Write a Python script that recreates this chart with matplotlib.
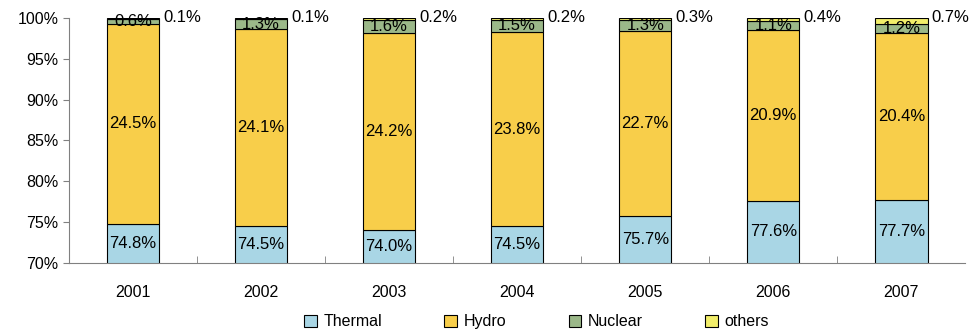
import matplotlib.pyplot as plt
import numpy as np

plt.rcParams['font.family'] = ['Liberation Sans', 'DejaVu Sans']

years = ['2001', '2002', '2003', '2004', '2005', '2006', '2007']
thermal = [74.8, 74.5, 74.0, 74.5, 75.7, 77.6, 77.7]
hydro = [24.5, 24.1, 24.2, 23.8, 22.7, 20.9, 20.4]
nuclear = [0.6, 1.3, 1.6, 1.5, 1.3, 1.1, 1.2]
others = [0.1, 0.1, 0.2, 0.2, 0.3, 0.4, 0.7]

names = ['Thermal', 'Hydro', 'Nuclear', 'others']
colors = ['#a9d6e5', '#f8ce4a', '#9bb889', '#f2ee6a']


def main():
	fig = plt.figure(figsize=(9.79, 3.32), dpi=100)
	ax = fig.add_axes([0.0705, 0.208, 0.9155, 0.738])

	x = np.arange(len(years))
	w = 0.41
	ymin = 70
	series = [thermal, hydro, nuclear, others]
	bottom = np.zeros(len(years))
	for vals, name, col in zip(series, names, colors):
		vals = np.array(vals)
		ax.bar(x, vals, w, bottom=bottom, color=col, edgecolor='black',
			linewidth=0.8, label=name, zorder=2)
		for i in range(len(years)):
			if name == 'others':
				ax.text(x[i] + w / 2 + 0.03, bottom[i] + vals[i], f'{vals[i]:.1f}%',
					ha='left', va='center', fontsize=12)
			else:
				lo = max(bottom[i], ymin)
				ax.text(x[i], (lo + bottom[i] + vals[i]) / 2, f'{vals[i]:.1f}%',
					ha='center', va='center', fontsize=12)
		bottom = bottom + vals

	ax.set_ylim(ymin, 100)
	ax.set_xlim(-0.5, len(years) - 0.5)
	ax.set_yticks(np.arange(70, 101, 5))
	ax.set_yticklabels([f'{v}%' for v in range(70, 101, 5)], fontsize=11.5)
	ax.set_xticks(x)
	ax.set_xticklabels(years, fontsize=11.5)
	ax.tick_params(axis='x', which='major', length=0, pad=16)
	ax.set_xticks(np.arange(0.5, len(years) - 0.5, 1), minor=True)
	ax.tick_params(axis='x', which='minor', direction='in', length=5, color='#808080')
	ax.tick_params(axis='y', direction='out', length=4, color='#808080')

	for s in ['top', 'right']:
		ax.spines[s].set_visible(False)
	for s in ['left', 'bottom']:
		ax.spines[s].set_color('#808080')

	fig.legend(loc='lower center', bbox_to_anchor=(0.548, -0.035), ncol=4, frameon=False,
		fontsize=11.5, handlelength=0.8, handleheight=0.8, handletextpad=0.4,
		columnspacing=3.9)

	fig.savefig('out.png', dpi=100)


main()
